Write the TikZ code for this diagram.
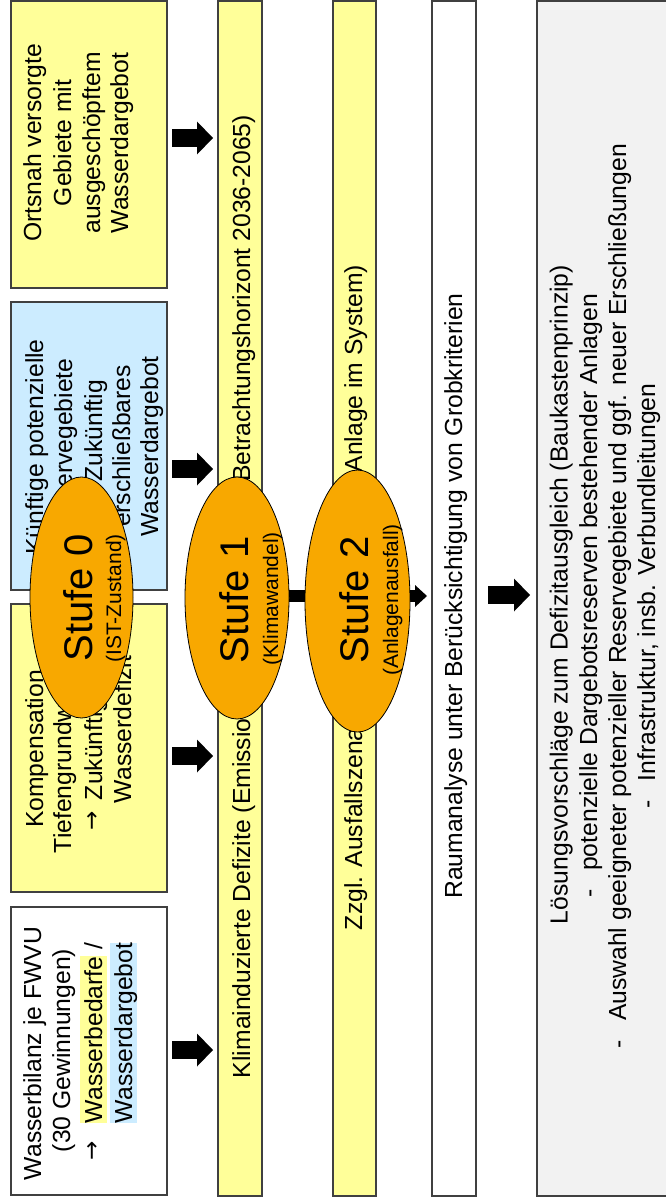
\documentclass[tikz,border=0pt]{standalone}
\usepackage{fontspec}
\setmainfont{Liberation Sans}
\newfontfamily\arrowfont{DejaVu Sans}
\usetikzlibrary{arrows.meta,shapes.geometric}
\definecolor{boxyellow}{HTML}{FFFF99}
\definecolor{boxblue}{HTML}{CCECFF}
\definecolor{stufeorange}{HTML}{F8A800}
\definecolor{boxgray}{HTML}{F2F2F2}
\definecolor{edgegray}{HTML}{404040}
\newcommand\hlbox[2]{{\setlength{\fboxsep}{0pt}\colorbox{#1}{\rule[-5.2pt]{0pt}{27.5pt}#2}}}
\tikzset{
  panel/.style={rectangle, draw=edgegray, line width=1.3pt, inner sep=0pt, outer sep=0pt},
  txt/.style={rotate=90, inner sep=0pt, outer sep=0pt, font=\fontsize{24.7}{29}\selectfont},
  arrowglyph/.style={rotate=90, inner sep=0pt, outer sep=0pt, font=\arrowfont\fontsize{23}{29}\selectfont},
  stufe/.style={ellipse, draw=black, line width=0.8pt, fill=stufeorange, inner sep=0pt},
  bigtxt/.style={rotate=90, inner sep=0pt, font=\fontsize{40}{48}\selectfont},
  smalltxt/.style={rotate=90, inner sep=0pt, font=\fontsize{21}{25}\selectfont},
  bigarrow/.style={line width=18pt, -{Triangle[width=33pt,length=16pt,line width=0pt]}},
  smallarrow/.style={line width=12pt, -{Triangle[width=22pt,length=12pt,line width=0pt]}},
}
\begin{document}
\begin{tikzpicture}[x=1pt,y=-1pt]
\useasboundingbox (0,0) rectangle (666,1204);
\fill[white] (0,0) rectangle (666,1204);

% left column boxes
\node[panel, fill=white, minimum width=156pt, minimum height=288pt] (boxA) at (89,1051) {};
\node[panel, fill=boxyellow, minimum width=156pt, minimum height=288pt] (boxB) at (89,748) {};
\node[panel, fill=boxblue, minimum width=156pt, minimum height=288pt] (boxC) at (89,446) {};
\node[panel, fill=boxyellow, minimum width=156pt, minimum height=287pt] (boxD) at (89,144.5) {};

% vertical bars
\node[panel, fill=boxyellow, minimum width=44pt, minimum height=1195pt] (bar1) at (240,598.5) {};
\node[panel, fill=boxyellow, minimum width=43pt, minimum height=1195pt] (bar2) at (354.5,598.5) {};
\node[panel, fill=white, minimum width=44pt, minimum height=1195pt] (bar3) at (454,598.5) {};
\node[panel, fill=boxgray, minimum width=131pt, minimum height=1195pt] (bar4) at (602.5,598.5) {};

% box D text
\node[txt, anchor=base] (d1) at (41,143) {Ortsnah versorgte};
\node[txt, anchor=base] (d2) at (71,143) {Gebiete mit};
\node[txt, anchor=base] (d3) at (100,143) {ausgeschöpftem};
\node[txt, anchor=base] (d4) at (128,143) {Wasserdargebot};

% box C text
\node[txt, anchor=base] (c1) at (43,447) {Künftige potenzielle};
\node[txt, anchor=base] (c2) at (72,445) {Reservegebiete};
\node[arrowglyph, anchor=center] (c3a) at (93.5,503) {→};
\node[txt, anchor=base east] (c3) at (102,380) {Zukünftig};
\node[txt, anchor=base east] (c4) at (130,365) {erschließbares};
\node[txt, anchor=base] (c5) at (158,446.5) {Wasserdargebot};

% box B text
\node[txt, anchor=base] (b1) at (43,749) {Kompensation};
\node[txt, anchor=base west] (b2) at (71,853) {Tiefengrundwasser};
\node[arrowglyph, anchor=center] (b3a) at (93.5,821) {→};
\node[txt, anchor=base west] (b3) at (102,800) {Zukünftiges};
\node[txt, anchor=base west] (b4) at (131,803) {Wasserdefizit};

% box A text
\node[txt, anchor=base west] (a1) at (41,1180) {Wasserbilanz je FWVU};
\node[txt, anchor=base west] (a2) at (70,1152) {(30 Gewinnungen)};
\node[arrowglyph, anchor=center] (a3a) at (93.5,1151) {→};
\node[txt, anchor=base west] (a3) at (102,1123) {\hlbox{boxyellow}{Wasserbedarfe} /};
\node[txt, anchor=base west] (a4) at (132,1123) {\hlbox{boxblue}{Wasserdargebot}};

% bar texts
\node[txt, anchor=base west] (k1) at (250,1078) {Klimainduzierte Defizite (Emissio};
\node[txt, anchor=base east] (k2) at (250,115) {Betrachtungshorizont 2036-2065)};
\node[txt, anchor=base west] (z1) at (362,930) {Zzgl. Ausfallszena};
\node[txt, anchor=base east] (z2) at (362,265) {Anlage im System)};
\node[txt, anchor=base] (r1) at (462,596) {Raumanalyse unter Berücksichtigung von Grobkriterien};

\node[txt, anchor=base] (l1) at (567.5,594.5) {Lösungsvorschläge zum Defizitausgleich (Baukastenprinzip)};
\node[txt, anchor=base] (l2) at (597,596) {-\hspace{19pt}potenzielle Dargebotsreserven bestehender Anlagen};
\node[txt, anchor=base] (l3) at (626,596) {-\hspace{19pt}Auswahl geeigneter potenzieller Reservegebiete und ggf. neuer Erschließungen};
\node[txt, anchor=base] (l4) at (655,596) {-\hspace{19pt}Infrastruktur, insb. Verbundleitungen};

% connectors
\coordinate (yA) at (0,1050);
\coordinate (yB) at (0,756);
\coordinate (yC) at (0,469);
\coordinate (yD) at (0,138);
\coordinate (yM) at (0,596);
\coordinate (yR) at (0,595);
\draw[bigarrow, shorten <=5pt, shorten >=5pt] (boxA.east |- yA) -- (bar1.west |- yA);
\draw[bigarrow, shorten <=5pt, shorten >=5pt] (boxB.east |- yB) -- (bar1.west |- yB);
\draw[bigarrow, shorten <=5pt, shorten >=5pt] (boxC.east |- yC) -- (bar1.west |- yC);
\draw[bigarrow, shorten <=5pt, shorten >=5pt] (boxD.east |- yD) -- (bar1.west |- yD);
\draw[smallarrow, shorten >=4pt] (bar1.east |- yM) -- (bar2.west |- yM);
\draw[smallarrow, shorten >=5pt] (bar2.east |- yM) -- (bar3.west |- yM);
\draw[bigarrow, shorten <=12pt, shorten >=7pt] (bar3.east |- yR) -- (bar4.west |- yR);

% Stufe ellipses
\node[stufe, minimum width=103pt, minimum height=241pt] (s0) at (81.5,597.5) {};
\node[stufe, minimum width=104pt, minimum height=242pt] (s1) at (237,598) {};
\node[stufe, minimum width=105pt, minimum height=262pt] (s2) at (357.5,601) {};
\node[bigtxt, anchor=base] (s0a) at (92,598) {Stufe 0};
\node[smalltxt, anchor=base] (s0b) at (121,598.5) {(IST-Zustand)};
\node[bigtxt, anchor=base] (s1a) at (248,600) {Stufe 1};
\node[smalltxt, anchor=base] (s1b) at (278,598.5) {(Klimawandel)};
\node[bigtxt, anchor=base] (s2a) at (368,600) {Stufe 2};
\node[smalltxt, anchor=base] (s2b) at (398,600) {(Anlagenausfall)};
\end{tikzpicture}
\end{document}
